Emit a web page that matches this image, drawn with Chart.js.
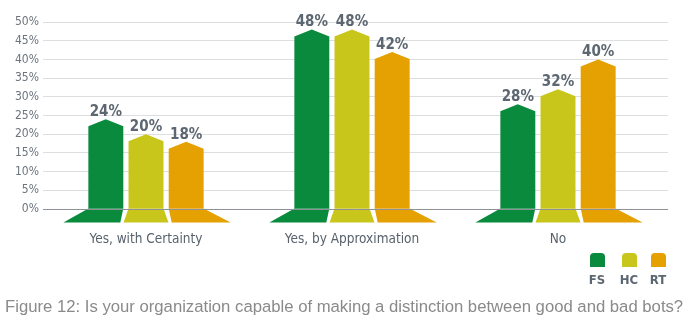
<!DOCTYPE html>
<html>
<head>
<meta charset="utf-8">
<script src="https://cdn.jsdelivr.net/npm/chart.js@4.4.1/dist/chart.umd.min.js"></script>
<style>
html,body{margin:0;padding:0;background:#fff;}
#wrap{position:relative;width:690px;height:322px;overflow:hidden;}
#c{position:absolute;left:0;top:0;}
.lg{position:absolute;top:253px;width:30px;text-align:center;}
.lg .b{width:15px;height:14px;margin:0 auto;border-radius:4px 4px 0 0;}
.lg .t{margin-top:5px;font:bold 13px "DejaVu Sans Condensed","Liberation Sans Narrow","Roboto",sans-serif;color:#5d6771;}
#cap{position:absolute;left:5px;top:297px;white-space:nowrap;font:16.7px "Liberation Sans",Arial,sans-serif;color:#8a8a8a;}
</style>
</head>
<body>
<div id="wrap">
<canvas id="c" width="690" height="322"></canvas>
<div id="legend"></div>
<div id="cap">Figure 12: Is your organization capable of making a distinction between good and bad bots?</div>
</div>
<script>
const categories = ["Yes, with Certainty", "Yes, by Approximation", "No"];
const seriesNames = ["FS", "HC", "RT"];
const FS = [24, 48, 28];
const HC = [20, 48, 32];
const RT = [18, 42, 40];
const yTicks = [0, 5, 10, 15, 20, 25, 30, 35, 40, 45, 50];
const colors = ["#0a8a3d", "#c9c61b", "#e5a002"];

const CF = '"DejaVu Sans Condensed","Liberation Sans Narrow","Roboto",sans-serif';
const GRID = '#dcdee0';
const EXT = 7; // gridline extension beyond the plot area

const legendEl = document.getElementById('legend');
const legX = [582, 614, 643];
seriesNames.forEach((n, i) => {
  const d = document.createElement('div');
  d.className = 'lg';
  d.style.left = legX[i] + 'px';
  d.innerHTML = '<div class="b" style="background:' + colors[i] + '"></div><div class="t">' + n + '</div>';
  legendEl.appendChild(d);
});

const footOffsets = [[-25, -3], [-5, 5], [3, 27]];
const align = p => Math.round(p - 0.5) + 0.5;

const gridExt = {
  id: 'gridExt',
  beforeDatasetsDraw(chart) {
    const ctx = chart.ctx, ys = chart.scales.y, r = chart.chartArea.right;
    ctx.save();
    ctx.strokeStyle = GRID;
    ctx.lineWidth = 1;
    ys.ticks.forEach(t => {
      if (t.value === 0) return;
      const y = align(ys.getPixelForValue(t.value));
      ctx.beginPath();
      ctx.moveTo(r - 1, y);
      ctx.lineTo(r + EXT, y);
      ctx.stroke();
    });
    ctx.restore();
  }
};

const shapePlugin = {
  id: 'shapes',
  beforeDatasetsDraw(chart) {
    const ctx = chart.ctx;
    const drop = 7, footH = 14;
    chart.data.datasets.forEach((ds, di) => {
      const meta = chart.getDatasetMeta(di);
      meta.data.forEach((el, i) => {
        const p = el.getProps(['x', 'y', 'base', 'width'], true);
        const l = p.x - p.width / 2, r = p.x + p.width / 2;
        ctx.save();
        ctx.fillStyle = colors[di];
        ctx.beginPath();
        ctx.moveTo(l, p.base);
        ctx.lineTo(l, p.y + drop);
        ctx.lineTo(p.x, p.y);
        ctx.lineTo(r, p.y + drop);
        ctx.lineTo(r, p.base);
        ctx.closePath();
        ctx.fill();
        const fo = footOffsets[di];
        ctx.beginPath();
        ctx.moveTo(l, p.base);
        ctx.lineTo(r, p.base);
        ctx.lineTo(r + fo[1], p.base + footH);
        ctx.lineTo(l + fo[0], p.base + footH);
        ctx.closePath();
        ctx.fill();
        ctx.fillStyle = '#5d6771';
        ctx.font = 'bold 15px ' + CF;
        ctx.textAlign = 'center';
        ctx.textBaseline = 'alphabetic';
        ctx.fillText(ds.data[i] + '%', p.x, p.y - 3);
        ctx.restore();
      });
    });
    const y0 = align(chart.scales.y.getPixelForValue(0));
    ctx.save();
    ctx.strokeStyle = '#8e9297';
    ctx.lineWidth = 1;
    ctx.beginPath();
    ctx.moveTo(chart.chartArea.left, y0);
    ctx.lineTo(chart.chartArea.right + EXT, y0);
    ctx.stroke();
    ctx.restore();
    return false;
  }
};

new Chart(document.getElementById('c'), {
  type: 'bar',
  data: {
    labels: categories,
    datasets: [
      { label: seriesNames[0], data: FS, backgroundColor: colors[0] },
      { label: seriesNames[1], data: HC, backgroundColor: colors[1] },
      { label: seriesNames[2], data: RT, backgroundColor: colors[2] }
    ]
  },
  options: {
    responsive: false,
    animation: false,
    devicePixelRatio: 1,
    categoryPercentage: 0.585,
    barPercentage: 0.87,
    layout: { padding: { top: 22, right: 29, left: 0, bottom: 0 } },
    plugins: { legend: { display: false }, tooltip: { enabled: false } },
    scales: {
      x: {
        grid: { display: false, drawTicks: false },
        border: { display: false },
        ticks: { padding: 22, color: '#58626c', font: { family: CF, size: 13.5 } },
        afterFit(s) { s.height = 113; }
      },
      y: {
        min: 0, max: 50,
        afterBuildTicks(s) { s.ticks = yTicks.map(v => ({ value: v })); },
        ticks: { padding: 4, color: '#6b747c', font: { family: CF, size: 12 }, callback: v => v + '%' },
        grid: { color: GRID, drawTicks: false, lineWidth: 1 },
        border: { display: false },
        afterFit(s) { s.width = 43; }
      }
    }
  },
  plugins: [gridExt, shapePlugin]
});
</script>
</body>
</html>
